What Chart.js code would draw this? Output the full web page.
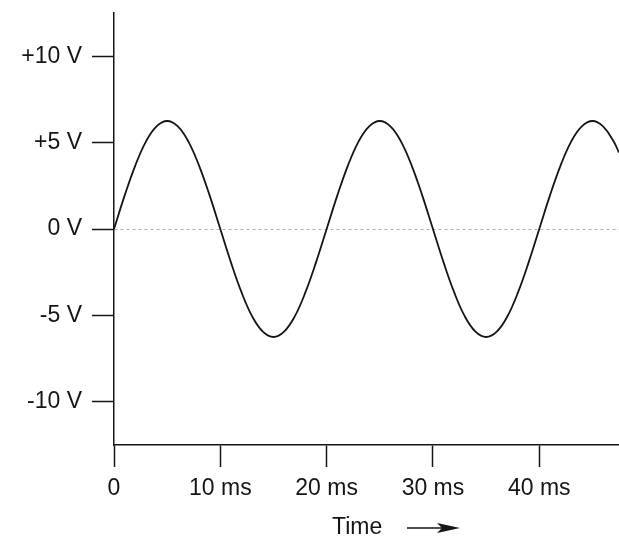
<!DOCTYPE html>
<html>
<head>
<meta charset="utf-8">
<script src="https://cdn.jsdelivr.net/npm/chart.js@4.4.1/dist/chart.umd.min.js"></script>
<style>
  html, body { margin: 0; padding: 0; background: #fff; }
  #wrap { width: 619px; height: 541px; }
</style>
</head>
<body>
<div id="wrap"><canvas id="waveChart"></canvas></div>
<script>
// time in ms, voltage in V
const timeMs = [0, 1, 2, 3, 4, 5, 6, 7, 8, 9,
                10, 11, 12, 13, 14, 15, 16, 17, 18, 19,
                20, 21, 22, 23, 24, 25, 26, 27, 28, 29,
                30, 31, 32, 33, 34, 35, 36, 37, 38, 39,
                40, 41, 42, 43, 44, 45, 46, 47, 47.5];
const volts = [0, 1.93, 3.67, 5.06, 5.94, 6.25, 5.94, 5.06, 3.67, 1.93,
               0, -1.93, -3.67, -5.06, -5.94, -6.25, -5.94, -5.06, -3.67, -1.93,
               0, 1.93, 3.67, 5.06, 5.94, 6.25, 5.94, 5.06, 3.67, 1.93,
               0, -1.93, -3.67, -5.06, -5.94, -6.25, -5.94, -5.06, -3.67, -1.93,
               0, 1.93, 3.67, 5.06, 5.94, 6.25, 5.94, 5.06, 4.42];
const xTicks = [0, 10, 20, 30, 40];
const yTicks = [-10, -5, 0, 5, 10];
const axisTitle = 'Time';

const ink = '#151515';
const font = { family: 'Liberation Sans, Arial, sans-serif', size: 23 };

// draws "Time ——►" under the x axis
const timeTitle = {
    id: 'timeTitle',
    afterDraw(chart) {
        const ctx = chart.ctx;
        const area = chart.chartArea;
        const x0 = area.left + 218;
        const y0 = area.bottom + 83;
        ctx.save();
        ctx.fillStyle = ink;
        ctx.strokeStyle = ink;
        ctx.font = '23px ' + font.family;
        ctx.textAlign = 'left';
        ctx.textBaseline = 'middle';
        ctx.fillText(axisTitle, x0, y0);
        // arrow
        const ax = x0 + 75;
        ctx.lineWidth = 1.5;
        ctx.beginPath();
        ctx.moveTo(ax, y0);
        ctx.lineTo(ax + 40, y0);
        ctx.stroke();
        ctx.beginPath();
        ctx.moveTo(ax + 53, y0);
        ctx.lineTo(ax + 30, y0 - 5);
        ctx.lineTo(ax + 35, y0);
        ctx.lineTo(ax + 30, y0 + 5);
        ctx.closePath();
        ctx.fill();
        ctx.restore();
    }
};

new Chart(document.getElementById('waveChart'), {
    type: 'line',
    data: {
        datasets: [{
            data: timeMs.map((t, i) => ({ x: t, y: volts[i] })),
            borderColor: ink,
            borderWidth: 1.8,
            pointRadius: 0,
            tension: 0.4,
            fill: false
        }]
    },
    options: {
        responsive: true,
        maintainAspectRatio: false,
        animation: false,
        layout: { padding: { top: 13, right: 0, left: 0, bottom: 0 } },
        plugins: {
            legend: { display: false },
            tooltip: { enabled: false }
        },
        scales: {
            x: {
                type: 'linear',
                min: 0,
                max: 47.5,
                afterBuildTicks: scale => { scale.ticks = xTicks.map(v => ({ value: v })); },
                afterFit: scale => {
                    scale.height = 96;
                    scale.paddingLeft = 0;
                    scale.paddingRight = 0;
                },
                border: { display: true, color: ink, width: 1.5 },
                grid: {
                    drawOnChartArea: false,
                    drawTicks: true,
                    tickLength: 22,
                    tickColor: ink,
                    tickWidth: 1.5
                },
                ticks: {
                    color: ink,
                    font: font,
                    padding: 8,
                    maxRotation: 0,
                    callback: v => v === 0 ? '0' : v + ' ms'
                }
            },
            y: {
                type: 'linear',
                min: -12.5,
                max: 12.5,
                afterBuildTicks: scale => { scale.ticks = yTicks.map(v => ({ value: v })); },
                afterFit: scale => {
                    scale.width = 114;
                    scale.paddingTop = 0;
                    scale.paddingBottom = 0;
                },
                border: { display: true, color: ink, width: 1.5, dash: [3, 3] },
                grid: {
                    drawTicks: true,
                    tickLength: 22,
                    tickColor: ink,
                    tickWidth: 1.5,
                    tickBorderDash: [],
                    color: ctx => ctx.tick && ctx.tick.value === 0 ? 'rgba(0,0,0,0.3)' : 'rgba(0,0,0,0)',
                    lineWidth: 1
                },
                ticks: {
                    color: ink,
                    font: font,
                    padding: 10,
                    callback: v => (v > 0 ? '+' + v : v) + ' V'
                }
            }
        }
    },
    plugins: [timeTitle]
});
</script>
</body>
</html>
